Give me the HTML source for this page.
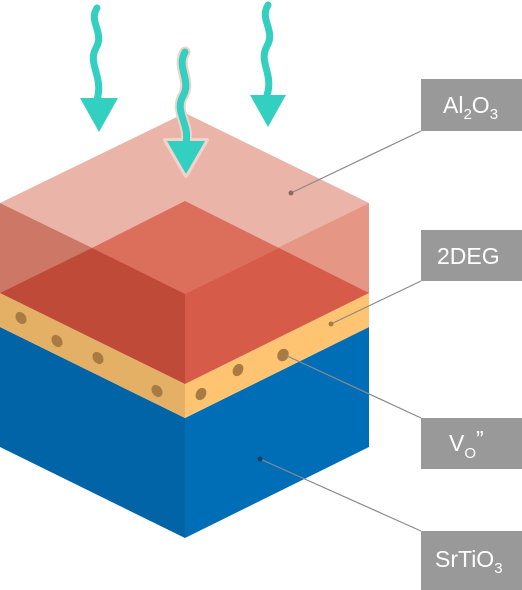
<!DOCTYPE html>
<html><head><meta charset="utf-8"><style>
html,body{margin:0;padding:0;background:#fff;width:522px;height:590px;overflow:hidden}
svg{display:block}
text{font-family:"Liberation Sans",sans-serif;fill:#fff}
</style></head><body>
<svg width="522" height="590" viewBox="0 0 522 590">
<g>
<polygon points="0,327 185,418 185,538 0,447" fill="#0064a6"/>
<polygon points="185,418 369,327 369,447 185,538" fill="#006eb6"/>
</g>
<g>
<polygon points="0,293 185,384 185,418 0,327" fill="#e4b066"/>
<polygon points="185,384 369,293 369,327 185,418" fill="#fec471"/>
</g>
<g fill="#a87b45">
<ellipse cx="21" cy="318" rx="5" ry="6.5" transform="rotate(-35 21 318)"/>
<ellipse cx="57" cy="341" rx="5" ry="6.5" transform="rotate(-35 57 341)"/>
<ellipse cx="98" cy="358" rx="5" ry="6.5" transform="rotate(-35 98 358)"/>
<ellipse cx="157" cy="391" rx="5" ry="6.5" transform="rotate(-35 157 391)"/>
<ellipse cx="201" cy="394" rx="5" ry="6.5" transform="rotate(30 201 394)"/>
<ellipse cx="238" cy="370" rx="5" ry="6.5" transform="rotate(30 238 370)"/>
<ellipse cx="283" cy="355" rx="5.5" ry="6.5" transform="rotate(30 283 355)"/>
</g>
<g>
<polygon points="185,113 369,203 185,293 0,203" fill="#ebb4a8"/>
<polygon points="0,203 185,293 185,383 0,293" fill="#cd7766"/>
<polygon points="185,293 369,203 369,293 185,383" fill="#e59684"/>
<polygon points="185,201 279,248 185,294 92,248" fill="#dc6e5c"/>
<polygon points="92,248 185,294 185,384 0,293" fill="#bf4a38"/>
<polygon points="279,248 369,293 185,384 185,294" fill="#d65b49"/>
</g>
<g fill="none" stroke-linecap="round">
<path d="M97,8 C88,22 105,32 96,48 C87,64 104,76 97,100" stroke="#33cfc0" stroke-width="7"/>
<polygon points="80,98 118,98 99,132" fill="#33cfc0"/>
<path d="M268,5 C259,20 276,30 267,46 C258,62 274,74 267,95" stroke="#33cfc0" stroke-width="7"/>
<polygon points="250,95 286,95 268,127" fill="#33cfc0"/>
<path d="M185,52 C176,68 192,80 183,96 C174,112 190,124 186,143" stroke="#f2d3cc" stroke-width="11"/>
<polygon points="165,140 207,140 186,176" fill="#f2d3cc" stroke="#f2d3cc" stroke-width="4" stroke-linejoin="round"/>
<path d="M185,52 C176,68 192,80 183,96 C174,112 190,124 186,143" stroke="#33cfc0" stroke-width="7"/>
<polygon points="167,141 205,141 186,174" fill="#33cfc0"/>
</g>
<g stroke="#8a8a8a" stroke-width="1.2">
<line x1="421" y1="131" x2="291" y2="193"/>
<line x1="421" y1="281" x2="331" y2="324"/>
<line x1="421" y1="418" x2="285" y2="355"/>
<line x1="421" y1="531" x2="260" y2="459"/>
</g>
<g>
<circle cx="291" cy="193" r="2.5" fill="#8c6a63"/>
<circle cx="331" cy="324" r="2.5" fill="#a87b45"/>
<circle cx="260" cy="459" r="2.5" fill="#0a3f66"/>
</g>
<g>
<rect x="421" y="79" width="101" height="52" fill="#999"/>
<text x="443" y="113" font-size="23">Al<tspan font-size="15" dy="6">2</tspan><tspan dy="-6">O</tspan><tspan font-size="15" dy="6">3</tspan></text>
</g>
<g>
<rect x="421" y="230" width="101" height="51" fill="#999"/>
<text x="437" y="264" font-size="23">2DEG</text>
</g>
<g>
<rect x="421" y="418" width="101" height="51" fill="#999"/>
<text x="449" y="451" font-size="23">V<tspan font-size="15" dy="7">O</tspan><tspan dy="-11">”</tspan></text>
</g>
<g>
<rect x="421" y="531" width="101" height="59" fill="#999"/>
<text x="435" y="567" font-size="23">SrTiO<tspan font-size="15" dy="6">3</tspan></text>
</g>
</svg>
</body></html>
